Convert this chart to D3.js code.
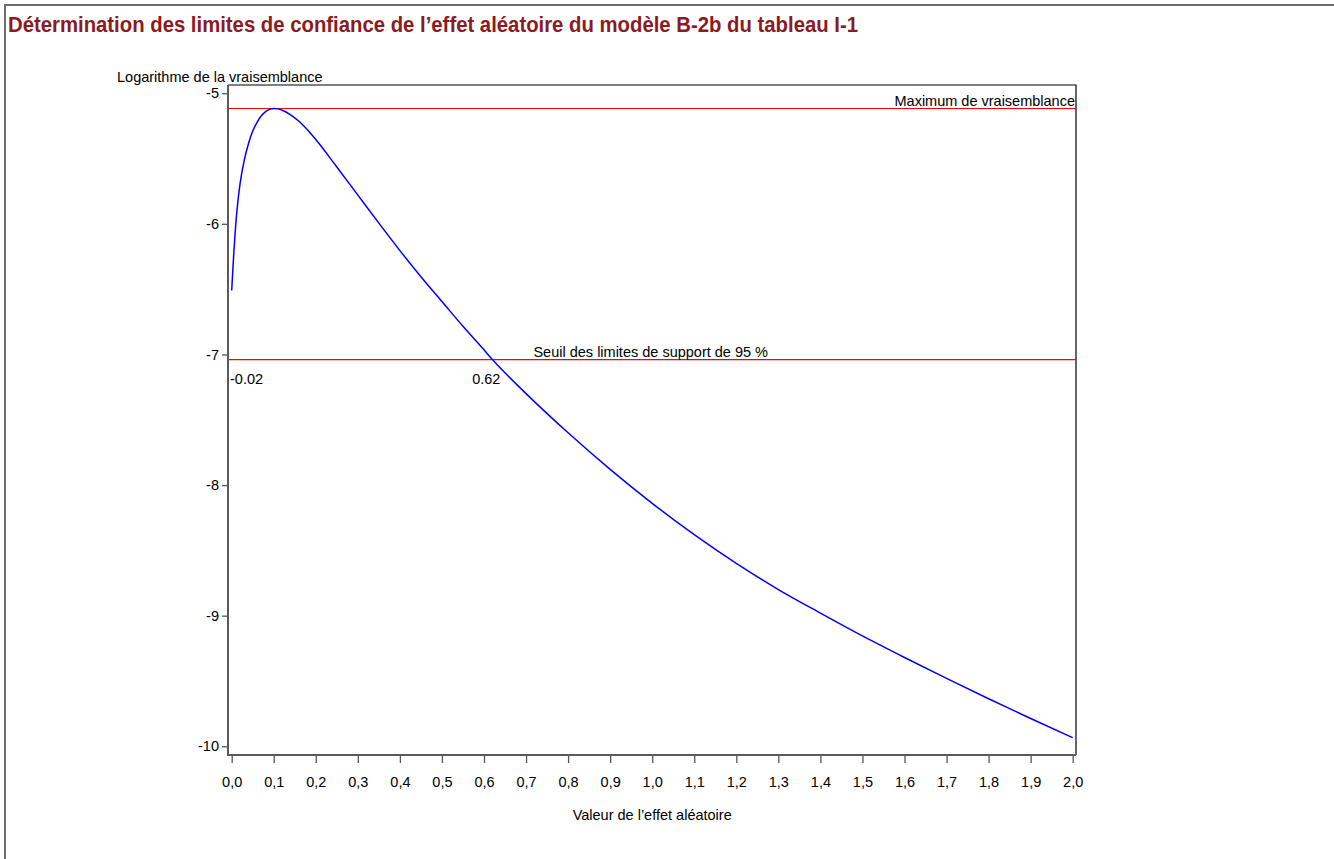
<!DOCTYPE html>
<html>
<head>
<meta charset="utf-8">
<script src="https://cdn.jsdelivr.net/npm/d3@7"></script>
<style>
  html, body { margin: 0; padding: 0; background: #fff; }
  svg { display: block; }
  text { font-family: "Liberation Sans", Arial, sans-serif; }
</style>
</head>
<body>
<svg id="chart" width="1334" height="859"></svg>
<script>
// Profile log-likelihood of the random effect (value of the effect vs log-likelihood)
const effectValues = [0, 0.005, 0.01, 0.015, 0.02, 0.03, 0.04, 0.05, 0.06, 0.07, 0.08, 0.09, 0.1, 0.11, 0.12, 0.14, 0.16, 0.18, 0.2, 0.25, 0.3, 0.35, 0.4, 0.45, 0.5, 0.55, 0.6, 0.62, 0.7, 0.8, 0.9, 1.0, 1.1, 1.2, 1.3, 1.4, 1.5, 1.6, 1.7, 1.8, 1.9, 2.0];
const logLik       = [-6.51, -6.22, -5.99, -5.82, -5.69, -5.51, -5.385, -5.29, -5.225, -5.175, -5.143, -5.124, -5.117, -5.12, -5.13, -5.165, -5.215, -5.28, -5.355, -5.565, -5.78, -5.995, -6.205, -6.405, -6.595, -6.785, -6.965, -7.039, -7.30, -7.60, -7.88, -8.14, -8.38, -8.60, -8.80, -8.98, -9.155, -9.32, -9.48, -9.636, -9.787, -9.934];

// Reference lines: maximum likelihood and 95 % support threshold
const refLevels = [-5.117, -7.039];
const refLabels = ["Maximum de vraisemblance", "Seuil des limites de support de 95 %"];

// Support limits
const limitValues = [-0.02, 0.62];
const limitLabels = ["-0.02", "0.62"];

// Axes
const xTicks = [0, 0.1, 0.2, 0.3, 0.4, 0.5, 0.6, 0.7, 0.8, 0.9, 1.0, 1.1, 1.2, 1.3, 1.4, 1.5, 1.6, 1.7, 1.8, 1.9, 2.0];
const yTicks = [-5, -6, -7, -8, -9, -10];

const title = "Détermination des limites de confiance de l\u2019effet aléatoire du modèle B-2b du tableau I-1";
const yTitle = "Logarithme de la vraisemblance";
const xTitle = "Valeur de l\u2019effet aléatoire";

const FS = 14.5;
const svg = d3.select("#chart");

// outer panel border
svg.append("path")
  .attr("d", "M5,870 V5 H1345")
  .attr("fill", "none")
  .attr("stroke", "#6e6e6e")
  .attr("stroke-width", 2);

// title (condensed bold)
svg.append("text")
  .attr("x", 8)
  .attr("y", 32)
  .attr("fill", "#8c1a1f")
  .attr("font-family", "'Liberation Sans Narrow', 'DejaVu Sans Condensed', 'Liberation Sans', sans-serif")
  .attr("font-weight", "bold")
  .attr("font-size", 22)
  .attr("textLength", 850)
  .attr("lengthAdjust", "spacingAndGlyphs")
  .text(title);

const x = d3.scaleLinear().domain([0, 2]).range([231.7, 1072.7]);
const y = d3.scaleLinear().domain([-5, -10]).range([93.2, 746.3]);

const frame = { left: 228, right: 1076, top: 85, bottom: 755 };

// plot frame: top and right in thin black
svg.append("path")
  .attr("d", `M${frame.left},${frame.top} H${frame.right} V${frame.bottom}`)
  .attr("fill", "none")
  .attr("stroke", "#000")
  .attr("stroke-width", 1.2);

// y axis
const yAxis = d3.axisLeft(y)
  .tickValues(yTicks)
  .tickSize(6)
  .tickSizeOuter(0)
  .tickPadding(3)
  .tickFormat(d => String(d));

const gy = svg.append("g")
  .attr("transform", `translate(${frame.left},0)`)
  .call(yAxis);
gy.select(".domain").remove();
gy.selectAll(".tick line").attr("stroke", "#555").attr("stroke-width", 1.3);
gy.selectAll(".tick text").attr("font-size", FS).attr("fill", "#000")
  .attr("font-family", "'Liberation Sans', Arial, sans-serif");

// x axis
const xAxis = d3.axisBottom(x)
  .tickValues(xTicks)
  .tickSize(8)
  .tickSizeOuter(0)
  .tickPadding(14)
  .tickFormat(d => d.toFixed(1).replace(".", ","));

const gx = svg.append("g")
  .attr("transform", `translate(0,${frame.bottom})`)
  .call(xAxis);
gx.select(".domain").remove();
gx.selectAll(".tick line").attr("stroke", "#555").attr("stroke-width", 1.3);
gx.selectAll(".tick text").attr("font-size", FS).attr("fill", "#000")
  .attr("font-family", "'Liberation Sans', Arial, sans-serif");

// left and bottom axis lines
svg.append("path")
  .attr("d", `M${frame.left},${frame.top} V${frame.bottom} H${frame.right}`)
  .attr("fill", "none")
  .attr("stroke", "#5a5a5a")
  .attr("stroke-width", 2);

// reference lines
svg.selectAll("line.ref")
  .data(refLevels)
  .join("line")
  .attr("class", "ref")
  .attr("x1", frame.left + 1)
  .attr("x2", frame.right)
  .attr("y1", d => y(d))
  .attr("y2", d => y(d))
  .attr("stroke", "#ff0000")
  .attr("stroke-width", 1.2);

// labels on the reference lines
svg.append("text")
  .attr("x", frame.right - 1)
  .attr("y", y(refLevels[0]) - 2)
  .attr("text-anchor", "end")
  .attr("font-size", FS)
  .attr("fill", "#000")
  .text(refLabels[0]);

svg.append("text")
  .attr("x", x(0.72) - 1)
  .attr("y", y(refLevels[1]) - 3)
  .attr("font-size", FS)
  .attr("fill", "#000")
  .text(refLabels[1]);

// support limit labels under the threshold line
svg.append("text")
  .attr("x", Math.max(x(limitValues[0]), frame.left) + 2)
  .attr("y", y(refLevels[1]) + 24)
  .attr("font-size", FS)
  .attr("fill", "#000")
  .text(limitLabels[0]);

svg.append("text")
  .attr("x", x(limitValues[1]) + 8)
  .attr("y", y(refLevels[1]) + 24)
  .attr("text-anchor", "end")
  .attr("font-size", FS)
  .attr("fill", "#000")
  .text(limitLabels[1]);

// curve
const pts = effectValues.map((v, i) => [v, logLik[i]]);
const line = d3.line()
  .x(d => x(d[0]))
  .y(d => y(d[1]))
  .curve(d3.curveMonotoneX);

svg.append("path")
  .datum(pts)
  .attr("d", line)
  .attr("fill", "none")
  .attr("stroke", "#0000ff")
  .attr("stroke-width", 1.5);

// axis titles
svg.append("text")
  .attr("x", 117)
  .attr("y", 82)
  .attr("font-size", FS)
  .attr("fill", "#000")
  .text(yTitle);

svg.append("text")
  .attr("x", (x(0) + x(2)) / 2)
  .attr("y", 820)
  .attr("text-anchor", "middle")
  .attr("font-size", FS)
  .attr("fill", "#000")
  .text(xTitle);
</script>
</body>
</html>
